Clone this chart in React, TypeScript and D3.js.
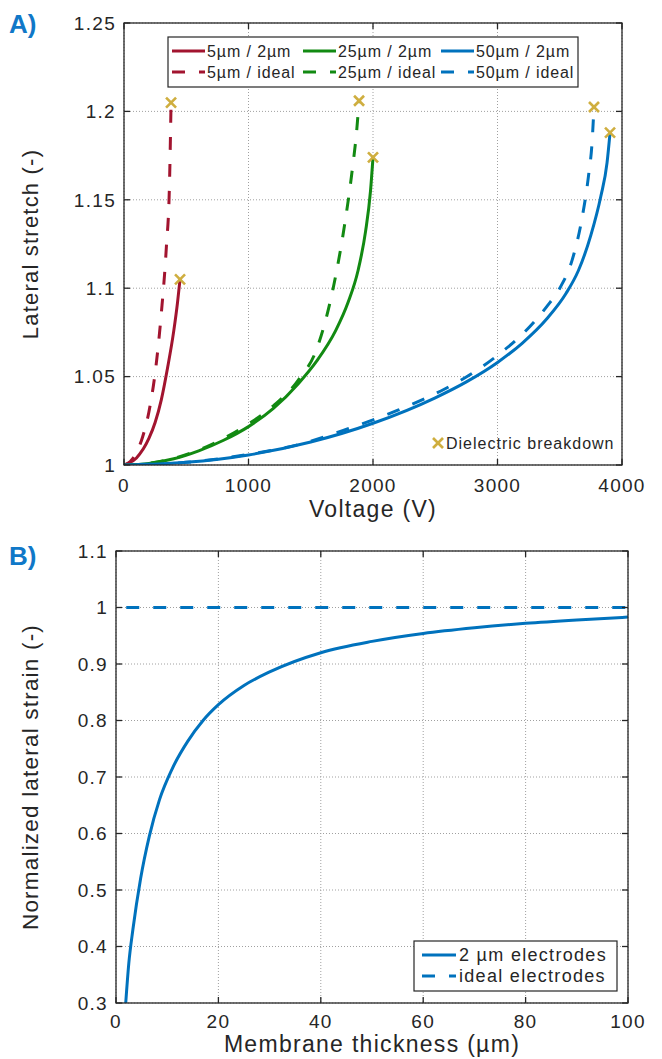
import React from 'react';
import * as d3 from 'd3';

// panel A: lateral stretch vs voltage, [V, stretch]
const red2um: [number, number][] = [[0, 1], [100, 1.004], [200, 1.015], [250, 1.024], [300, 1.037], [350, 1.055], [400, 1.076], [430, 1.092], [450, 1.105]];
const redIdeal: [number, number][] = [[0, 1], [50, 1.002], [100, 1.007], [150, 1.016], [200, 1.03], [250, 1.052], [300, 1.086], [340, 1.123], [365, 1.158], [378, 1.205]];
const green2um: [number, number][] = [[0, 1], [200, 1.0009], [400, 1.0035], [600, 1.008], [800, 1.014], [1000, 1.0217], [1200, 1.032], [1400, 1.046], [1550, 1.059], [1700, 1.076], [1800, 1.092], [1880, 1.11], [1940, 1.132], [1980, 1.155], [2000, 1.174]];
const greenIdeal: [number, number][] = [[0, 1], [200, 1.001], [400, 1.0038], [600, 1.0085], [800, 1.015], [1000, 1.0232], [1200, 1.0335], [1400, 1.048], [1550, 1.066], [1680, 1.1], [1770, 1.135], [1830, 1.165], [1870, 1.19], [1888, 1.206]];
const blue2um: [number, number][] = [[0, 1], [500, 1.0015], [1000, 1.0057], [1500, 1.013], [2000, 1.0236], [2500, 1.038], [2750, 1.047], [3000, 1.058], [3200, 1.069], [3400, 1.083], [3550, 1.097], [3650, 1.11], [3750, 1.13], [3830, 1.152], [3880, 1.171], [3904, 1.188]];
const blueIdeal: [number, number][] = [[0, 1], [500, 1.0015], [1000, 1.006], [1400, 1.0115], [1800, 1.0205], [2200, 1.031], [2576, 1.043], [2800, 1.052], [3000, 1.062], [3200, 1.074], [3400, 1.09], [3500, 1.1], [3600, 1.116], [3680, 1.14], [3730, 1.163], [3760, 1.183], [3775, 1.2025]];

const voltTicks = [0, 1000, 2000, 3000, 4000];
const stretchTicks = [1, 1.05, 1.1, 1.15, 1.2, 1.25];

// panel B: normalized lateral strain vs membrane thickness, [um, strain]
const strain2um: [number, number][] = [[1.9, 0.3], [2.5, 0.37], [3.3, 0.43], [4.8, 0.52], [6.5, 0.595], [8.5, 0.66], [11, 0.715], [14, 0.763], [17, 0.8], [20, 0.828], [25, 0.862], [30, 0.886], [40, 0.92], [50, 0.94], [60, 0.954], [70, 0.964], [80, 0.972], [90, 0.978], [100, 0.983]];
const strainIdeal: [number, number][] = [[2, 1], [100, 1]];

const thickTicks = [0, 20, 40, 60, 80, 100];
const strainTicks = [0.3, 0.4, 0.5, 0.6, 0.7, 0.8, 0.9, 1, 1.1];

const RED = '#A2142F';
const GREEN = '#128A12';
const BLUE = '#0072BD';
const GOLD = '#CFAE3F';
const INK = '#262626';
const FONT = '"Liberation Sans", Arial, Helvetica, sans-serif';

const seriesA = [
  { label: '5µm / 2µm', data: red2um, color: RED, dashed: false },
  { label: '25µm / 2µm', data: green2um, color: GREEN, dashed: false },
  { label: '50µm / 2µm', data: blue2um, color: BLUE, dashed: false },
  { label: '5µm / ideal', data: redIdeal, color: RED, dashed: true },
  { label: '25µm / ideal', data: greenIdeal, color: GREEN, dashed: true },
  { label: '50µm / ideal', data: blueIdeal, color: BLUE, dashed: true },
];

const seriesB = [
  { label: '2 µm electrodes', data: strain2um, dashed: false },
  { label: 'ideal electrodes', data: strainIdeal, dashed: true },
];

const DASH = '13 14';

type Box = { left: number; right: number; top: number; bottom: number };
type Scale = d3.ScaleLinear<number, number>;

function Grid({ box, x, y, xTicks, yTicks }: { box: Box; x: Scale; y: Scale; xTicks: number[]; yTicks: number[] }) {
  return (
    <g stroke="#a0a0a0" strokeWidth={1} strokeDasharray="1 2">
      {xTicks.map((t) => <line key={'gx' + t} x1={x(t)} x2={x(t)} y1={box.top} y2={box.bottom} />)}
      {yTicks.map((t) => <line key={'gy' + t} x1={box.left} x2={box.right} y1={y(t)} y2={y(t)} />)}
    </g>
  );
}

function Axes({ box, x, y, xTicks, yTicks, xLabelY }: {
  box: Box; x: Scale; y: Scale; xTicks: number[]; yTicks: number[]; xLabelY: number;
}) {
  const tl = 6;
  return (
    <g fontFamily={FONT} fill={INK}>
      <rect x={box.left} y={box.top} width={box.right - box.left} height={box.bottom - box.top} fill="none" stroke={INK} strokeWidth={1.3} />
      {xTicks.map((t) => (
        <g key={'tx' + t}>
          <line x1={x(t)} x2={x(t)} y1={box.bottom} y2={box.bottom - tl} stroke={INK} strokeWidth={1.3} />
          <line x1={x(t)} x2={x(t)} y1={box.top} y2={box.top + tl} stroke={INK} strokeWidth={1.3} />
          <text x={x(t)} y={xLabelY} textAnchor="middle" fontSize={19} letterSpacing={1.3}>{String(t)}</text>
        </g>
      ))}
      {yTicks.map((t) => (
        <g key={'ty' + t}>
          <line x1={box.left} x2={box.left + tl} y1={y(t)} y2={y(t)} stroke={INK} strokeWidth={1.3} />
          <line x1={box.right} x2={box.right - tl} y1={y(t)} y2={y(t)} stroke={INK} strokeWidth={1.3} />
          <text x={box.left - 8} y={y(t)} dy="0.36em" textAnchor="end" fontSize={19} letterSpacing={1.3}>{String(t)}</text>
        </g>
      ))}
    </g>
  );
}

export default function App() {
  const boxA: Box = { left: 124, right: 622, top: 23, bottom: 465 };
  const boxB: Box = { left: 116, right: 628, top: 551, bottom: 1003 };

  const xA = d3.scaleLinear().domain([0, 4000]).range([boxA.left, boxA.right]);
  const yA = d3.scaleLinear().domain([1, 1.25]).range([boxA.bottom, boxA.top]);
  const xB = d3.scaleLinear().domain([0, 100]).range([boxB.left, boxB.right]);
  const yB = d3.scaleLinear().domain([0.3, 1.1]).range([boxB.bottom, boxB.top]);

  const lineA = d3.line<[number, number]>().x((d) => xA(d[0])).y((d) => yA(d[1])).curve(d3.curveMonotoneX);
  const lineB = d3.line<[number, number]>().x((d) => xB(d[0])).y((d) => yB(d[1])).curve(d3.curveMonotoneX);

  const legendCols = [172, 303, 441];
  const cross = (cx: number, cy: number, k: string) => (
    <g key={k} stroke={GOLD} strokeWidth={2.6}>
      <line x1={cx - 5} x2={cx + 5} y1={cy - 5} y2={cy + 5} />
      <line x1={cx - 5} x2={cx + 5} y1={cy + 5} y2={cy - 5} />
    </g>
  );

  return (
    <svg width={662} height={1059} style={{ position: 'absolute', left: 0, top: 0, background: '#fff' }}>
      <rect width={662} height={1059} fill="#fff" />
      <defs>
        <clipPath id="clipA"><rect x={boxA.left} y={boxA.top} width={boxA.right - boxA.left} height={boxA.bottom - boxA.top} /></clipPath>
        <clipPath id="clipB"><rect x={boxB.left} y={boxB.top} width={boxB.right - boxB.left} height={boxB.bottom - boxB.top} /></clipPath>
      </defs>

      {/* panel A */}
      <Grid box={boxA} x={xA} y={yA} xTicks={voltTicks} yTicks={stretchTicks} />
      <g clipPath="url(#clipA)">
        {seriesA.map((s) => (
          <path key={s.label} d={lineA(s.data) || ''} fill="none" stroke={s.color} strokeWidth={3} strokeDasharray={s.dashed ? DASH : undefined} />
        ))}
      </g>
      {seriesA.map((s) => {
        const last = s.data[s.data.length - 1];
        return cross(xA(last[0]), yA(last[1]), 'x' + s.label);
      })}
      <Axes box={boxA} x={xA} y={yA} xTicks={voltTicks} yTicks={stretchTicks} xLabelY={492} />

      <g fontFamily={FONT} fill={INK}>
        <rect x={168} y={37} width={410} height={50} fill="#fff" stroke={INK} strokeWidth={1.2} />
        {seriesA.map((s, i) => {
          const x0 = legendCols[i % 3];
          const yy = i < 3 ? 51 : 72;
          return (
            <g key={'lg' + s.label}>
              <line x1={x0} x2={x0 + 33} y1={yy} y2={yy} stroke={s.color} strokeWidth={3} strokeDasharray={s.dashed ? DASH : undefined} />
              <text x={x0 + 35} y={yy} dy="0.36em" fontSize={16} letterSpacing={0.9}>{s.label}</text>
            </g>
          );
        })}
        {cross(438, 443, 'lgx')}
        <text x={446} y={443} dy="0.36em" fontSize={16} letterSpacing={1}>Dielectric breakdown</text>
        <text x={373} y={517} textAnchor="middle" fontSize={23} letterSpacing={1.3}>Voltage (V)</text>
        <text transform={`translate(38,${(boxA.top + boxA.bottom) / 2}) rotate(-90)`} textAnchor="middle" fontSize={22} letterSpacing={1.2}>Lateral stretch (-)</text>
      </g>

      {/* panel B */}
      <Grid box={boxB} x={xB} y={yB} xTicks={thickTicks} yTicks={strainTicks} />
      <g clipPath="url(#clipB)">
        {seriesB.map((s) => (
          <path key={s.label} d={lineB(s.data) || ''} fill="none" stroke={BLUE} strokeWidth={3} strokeDasharray={s.dashed ? DASH : undefined} />
        ))}
      </g>
      <Axes box={boxB} x={xB} y={yB} xTicks={thickTicks} yTicks={strainTicks} xLabelY={1028} />

      <g fontFamily={FONT} fill={INK}>
        <rect x={414} y={941} width={203} height={50} fill="#fff" stroke={INK} strokeWidth={1.2} />
        {seriesB.map((s, i) => {
          const yy = i === 0 ? 955 : 976;
          return (
            <g key={'lb' + s.label}>
              <line x1={422} x2={456} y1={yy} y2={yy} stroke={BLUE} strokeWidth={3} strokeDasharray={s.dashed ? DASH : undefined} />
              <text x={459} y={yy} dy="0.36em" fontSize={18} letterSpacing={1.3}>{s.label}</text>
            </g>
          );
        })}
        <text x={372} y={1052} textAnchor="middle" fontSize={23} letterSpacing={1.3}>Membrane thickness (µm)</text>
        <text transform={`translate(38,${(boxB.top + boxB.bottom) / 2}) rotate(-90)`} textAnchor="middle" fontSize={22.5} letterSpacing={1.2}>Normalized lateral strain (-)</text>
      </g>

      <g fontFamily={FONT} fontWeight="bold" fill="#1078C8" fontSize={26}>
        <text x={9} y={33}>A)</text>
        <text x={9} y={565}>B)</text>
      </g>
    </svg>
  );
}
